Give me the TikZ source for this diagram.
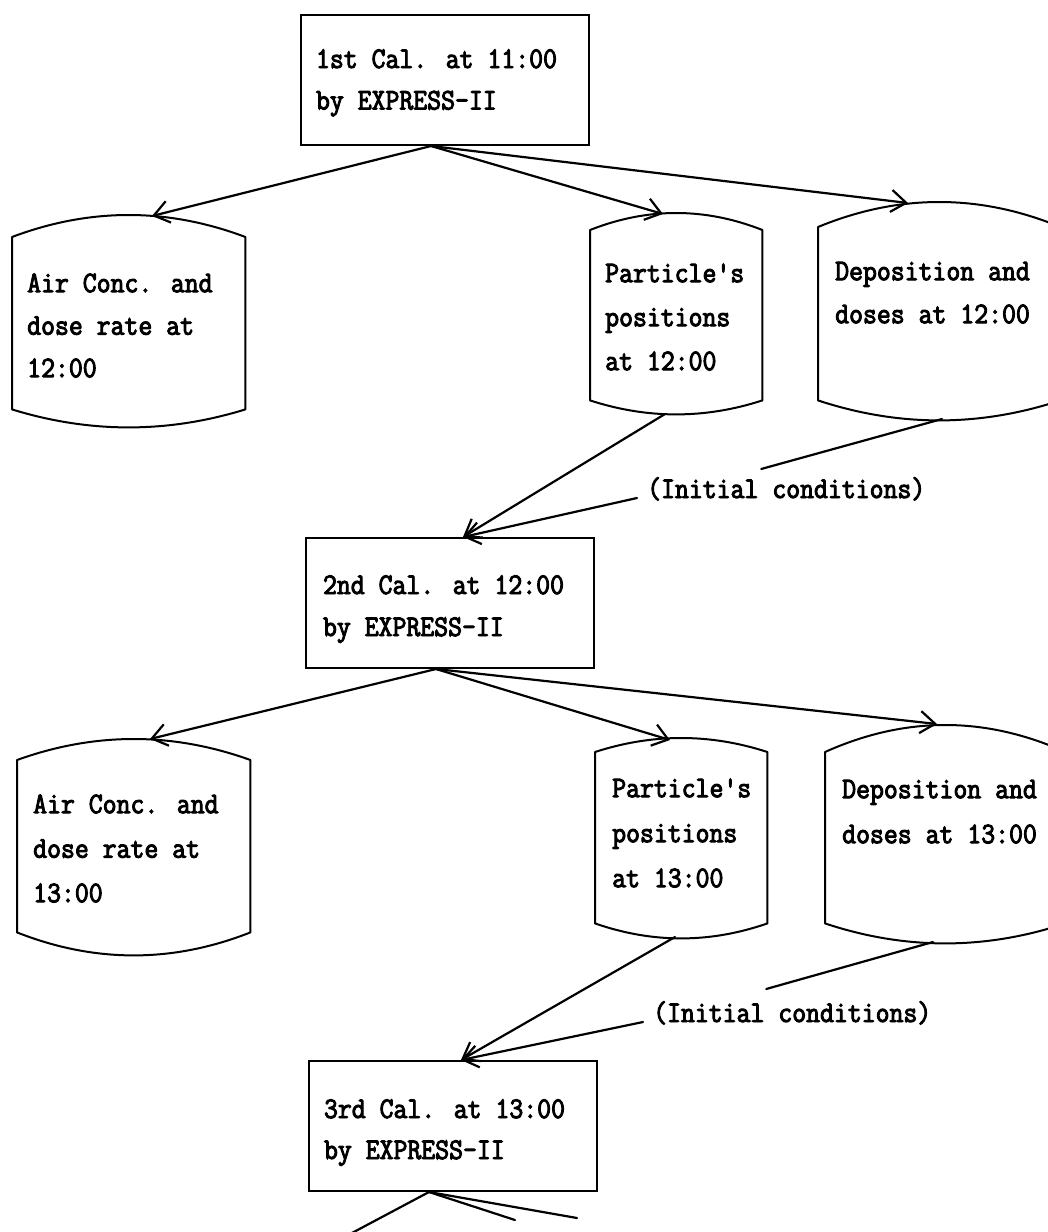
\documentclass[tikz,border=0pt]{standalone}
\usepackage{fontspec}
\newfontfamily\diagfont[FakeBold=3.2,FakeStretch=0.9]{Latin Modern Mono}
\usetikzlibrary{arrows.meta,calc}
% width, height, left offset, first baseline, line spacing, text
\newcommand\celltext[6]{\parbox[c][#2][t]{#1}{\fontsize{30pt}{#5}\selectfont\raggedright\leftskip=#3\relax\rule{0pt}{#4}#6}}
\tikzset{
  calcbox/.style={draw, line width=2pt, inner sep=0pt, anchor=north west, font=\diagfont},
  barrelnode/.style={draw=none, inner sep=0pt, anchor=north west, font=\diagfont},
  barrelline/.style={line width=2pt, line join=round},
  icnode/.style={inner xsep=10pt, inner ysep=10pt, anchor=base west, font=\diagfont\fontsize{30pt}{34pt}\selectfont},
  conn/.style={line width=2.2pt, line cap=round},
  arr/.style={conn, -{Straight Barb[length=15pt,width=22pt,line width=2.2pt]}}
}
\begin{document}
\begin{tikzpicture}[x=1pt,y=-1pt]
\useasboundingbox (0,0) rectangle (1048,1232);
\clip (0,0) rectangle (1048,1232);
\fill[white] (0,0) rectangle (1048,1232);

% calculation boxes
\node[calcbox] (b1) at (300,14) {\celltext{288pt}{130pt}{15pt}{53pt}{41.5pt}{1st Cal. at 11:00\\by EXPRESS-II}};
\node[calcbox] (b2) at (305,537) {\celltext{288pt}{130pt}{17pt}{56pt}{42pt}{2nd Cal. at 12:00\\by EXPRESS-II}};
\node[calcbox] (b3) at (308,1060) {\celltext{288pt}{130pt}{15pt}{57pt}{41pt}{3rd Cal. at 13:00\\by EXPRESS-II}};

% result barrels
\node[barrelnode] (a1) at (12,237) {\celltext{233pt}{172pt}{15pt}{55pt}{42.5pt}{Air Conc. and\\dose rate at\\12:00}};
\node[barrelnode] (p1) at (590,230) {\celltext{172pt}{170pt}{15pt}{52pt}{44pt}{Particle's\\positions\\at 12:00}};
\node[barrelnode] (d1) at (818,227) {\celltext{242pt}{173pt}{17pt}{53pt}{43pt}{Deposition and\\doses at 12:00}};
\node[barrelnode] (a2) at (17,760) {\celltext{233pt}{172pt}{16pt}{53pt}{44.5pt}{Air Conc. and\\dose rate at\\13:00}};
\node[barrelnode] (p2) at (595,752) {\celltext{172pt}{171pt}{17pt}{45pt}{45pt}{Particle's\\positions\\at 13:00}};
\node[barrelnode] (d2) at (825,752) {\celltext{240pt}{171pt}{17pt}{46pt}{45pt}{Deposition and\\doses at 13:00}};

\foreach \n/\bt/\bb in {a1/22/18, p1/17/14, d1/25/20, a2/21/23, p2/14/15, d2/27/20}{
  \draw[barrelline] (\n.north west)
    .. controls ($(\n.north west)!0.6667!(\n.north)+(0,{-\bt*4/3})$) and ($(\n.north east)!0.6667!(\n.north)+(0,{-\bt*4/3})$) .. (\n.north east)
    -- (\n.south east)
    .. controls ($(\n.south east)!0.6667!(\n.south)+(0,{\bb*4/3})$) and ($(\n.south west)!0.6667!(\n.south)+(0,{\bb*4/3})$) .. (\n.south west)
    -- cycle;
}

% initial condition labels
\node[icnode] (ic1) at (637,498) {(Initial conditions)};
\node[icnode] (ic2) at (643,1022) {(Initial conditions)};

% connection points
\coordinate (b1out) at ($(b1.south)+(-14,0)$);
\coordinate (b2out) at ($(b2.south)+(-14,0)$);
\coordinate (b3out) at ($(b3.south)+(-24,0)$);
\coordinate (b2in) at ($(b2.north)+(13,0)$);
\coordinate (b3in) at ($(b3.north)+(8,0)$);
\coordinate (a1in) at (152,216);
\coordinate (p1in) at (663,214);
\coordinate (d1in) at (908,203);
\coordinate (a2in) at (150,739);
\coordinate (p2in) at (670,740);
\coordinate (d2in) at (937,724);
\coordinate (p1out) at (665,414);
\coordinate (d1out) at (942,419);
\coordinate (p2out) at (675,937);
\coordinate (d2out) at (933,942);
\coordinate (ic1in) at ($(ic1.north)+(-25,2)$);
\coordinate (ic2in) at ($(ic2.north)+(-26,-2)$);
\coordinate (e1) at (335,1242);
\coordinate (e2) at (515,1220);
\coordinate (e3) at (577,1218);

% connectors
\draw[arr] (b1out) -- (a1in);
\draw[arr] (b1out) -- (p1in);
\draw[arr] (b1out) -- (d1in);
\draw[arr] (p1out) -- (b2in);
\draw[conn] (d1out) -- (ic1in);
\draw[arr] (ic1.base west) -- (b2in);
\draw[arr] (b2out) -- (a2in);
\draw[arr] (b2out) -- (p2in);
\draw[arr] (b2out) -- (d2in);
\draw[arr] (p2out) -- (b3in);
\draw[conn] (d2out) -- (ic2in);
\draw[arr] (ic2.base west) -- (b3in);
\draw[conn] (b3out) -- (e1);
\draw[conn] (b3out) -- (e2);
\draw[conn] (b3out) -- (e3);
\end{tikzpicture}
\end{document}
